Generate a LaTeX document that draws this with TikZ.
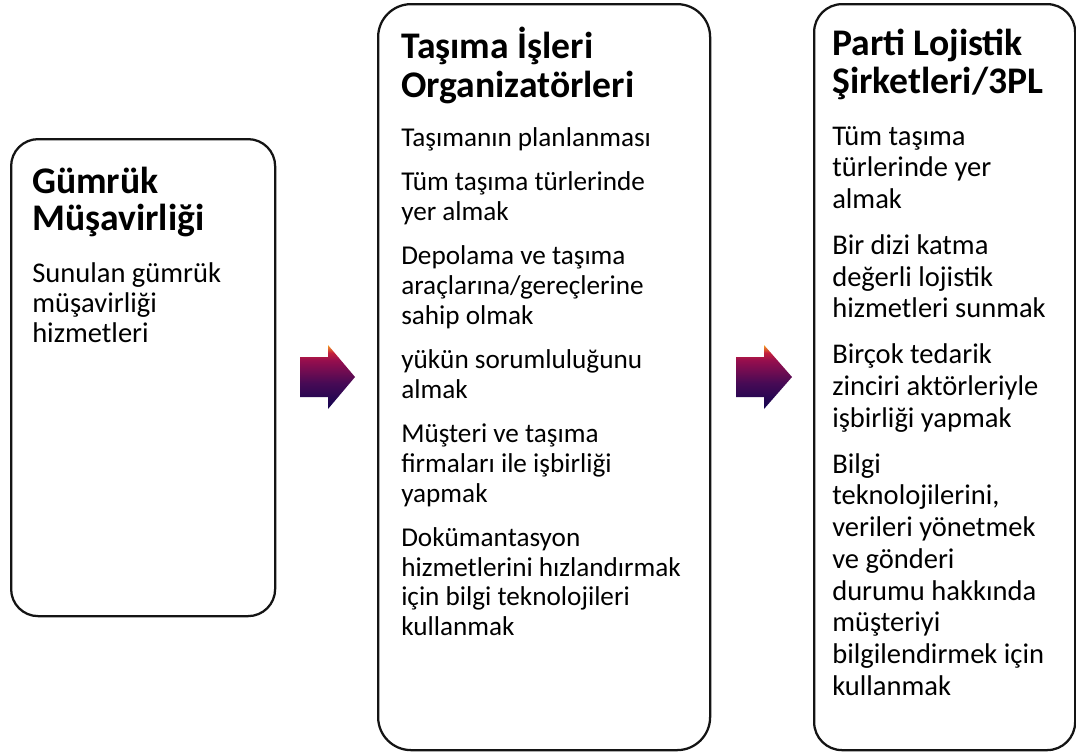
\documentclass[tikz,border=0pt]{standalone}
\usepackage{fontspec}
\setmainfont{Carlito}
\definecolor{anavy}{RGB}{18,4,80}
\definecolor{apurple}{RGB}{70,10,85}
\definecolor{amaroon}{RGB}{150,14,78}
\definecolor{ared}{RGB}{196,32,60}
\definecolor{aorange}{RGB}{247,160,30}
\definecolor{edge}{RGB}{20,20,20}
\pgfdeclareverticalshading{arrowgrad}{100bp}{color(0bp)=(anavy); color(25bp)=(anavy); color(45bp)=(apurple); color(63bp)=(amaroon); color(69bp)=(ared); color(75bp)=(aorange); color(100bp)=(aorange)}
\tikzset{
  panel/.style={draw=edge, line width=1.7pt, fill=white, anchor=north west, inner sep=0pt},
  ttl/.style={anchor=base west, inner sep=0pt, font=\fontsize{28.2}{30}\selectfont\bfseries},
  bdy/.style={anchor=base west, inner sep=0pt, font=\fontsize{21.4}{24}\selectfont},
  bdys/.style={anchor=base west, inner sep=0pt, font=\fontsize{20.4}{24}\selectfont},
  flowarrow/.style={shading=arrowgrad}
}
\begin{document}
\begin{tikzpicture}[x=0.75pt,y=-0.75pt]
\useasboundingbox (0,0) rectangle (1076,754);
% panels
\node[panel, rounded corners=20.25pt, minimum width=198pt, minimum height=357.75pt] (b1) at (10,138) {};
\node[panel, rounded corners=24.75pt, minimum width=249pt, minimum height=559.5pt] (b2) at (377,3) {};
\node[panel, rounded corners=21pt, minimum width=195.75pt, minimum height=559.5pt] (b3) at (813,3) {};
% box 1 text
\foreach \yy/\txt [count=\k] in {193/Gümrük, 230/Müşavirliği}
  \node[ttl] (a-t\k) at (32,\yy) {\txt};
\foreach \yy/\txt [count=\k] in {282/Sunulan gümrük, 312/müşavirliği, 342/hizmetleri}
  \node[bdy] (a-b\k) at (32,\yy) {\txt};
% box 2 text
\foreach \yy/\txt [count=\k] in {58/Taşıma İşleri, 97/Organizatörleri}
  \node[ttl] (b-t\k) at (401,\yy) {\txt};
\foreach \yy/\txt [count=\k] in {
  146/Taşımanın planlanması,
  190.6/Tüm taşıma türlerinde, 220.2/yer almak,
  264.8/Depolama ve taşıma, 294.4/{araçlarına/gereçlerine}, 324/sahip olmak,
  368.6/yükün sorumluluğunu, 398.2/almak,
  442.8/Müşteri ve taşıma, 472.4/firmaları ile işbirliği, 502/yapmak,
  546.6/Dokümantasyon, 576.2/hizmetlerini hızlandırmak, 605.8/için bilgi teknolojileri, 635.4/kullanmak}
  \node[bdys] (b-b\k) at (401,\yy) {\txt};
% box 3 text
\foreach \yy/\txt [count=\k] in {55/Parti Lojistik, 93/{Şirketleri/3PL}}
  \node[ttl] (c-t\k) at (832,\yy) {\txt};
\foreach \yy/\txt [count=\k] in {
  145/Tüm taşıma, 176.7/türlerinde yer, 208.4/almak,
  254.4/Bir dizi katma, 286.1/değerli lojistik, 317.8/hizmetleri sunmak,
  363.8/Birçok tedarik, 395.5/zinciri aktörleriyle, 427.2/işbirliği yapmak,
  473.2/Bilgi, 504.9/{teknolojilerini,}, 536.6/verileri yönetmek, 568.3/ve gönderi,
  600/durumu hakkında, 631.7/müşteriyi, 663.4/bilgilendirmek için, 695.1/kullanmak}
  \node[bdy] (c-b\k) at (832,\yy) {\txt};
% block arrows
\shade[flowarrow] (300,357) -- (328,357) -- (328,345) -- (355,377) -- (328,409) -- (328,397) -- (300,397) -- cycle;
\shade[flowarrow] (736,357) -- (764,357) -- (764,345) -- (792,377) -- (764,409) -- (764,397) -- (736,397) -- cycle;
\end{tikzpicture}
\end{document}
